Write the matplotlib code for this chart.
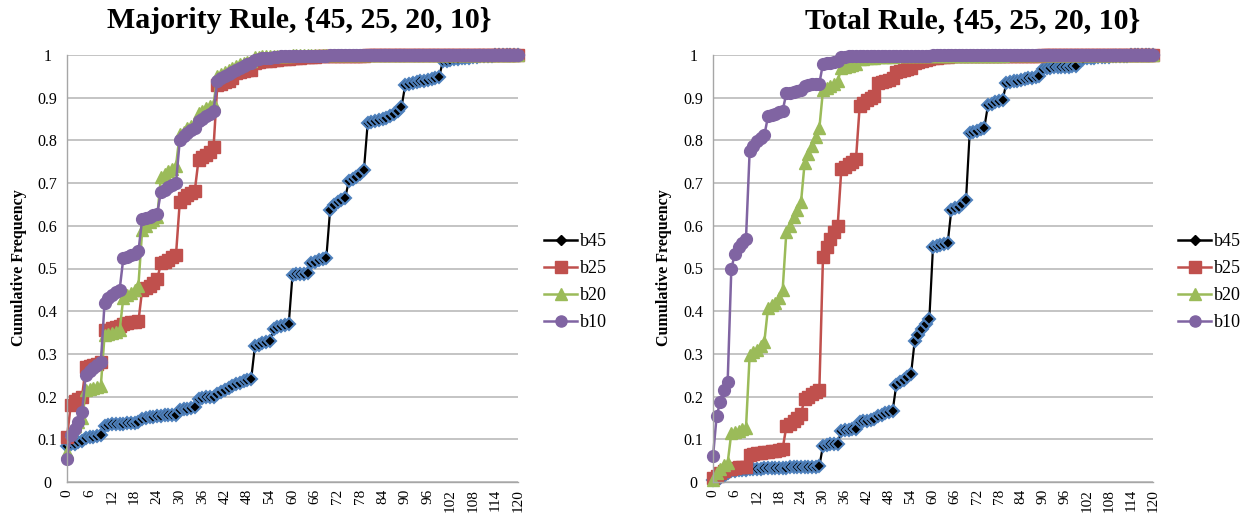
import matplotlib
matplotlib.use("Agg")
import matplotlib.pyplot as plt
from matplotlib.lines import Line2D
import numpy as np

plt.rcParams['font.family'] = ['Liberation Serif', 'DejaVu Serif']

# ---------------- data ----------------
x_values = list(range(0, 121))
x_tick_values = list(range(0, 121, 6))
x_tick_labels = [str(v) for v in x_tick_values]
y_tick_values = [0, 0.1, 0.2, 0.3, 0.4, 0.5, 0.6, 0.7, 0.8, 0.9, 1.0]
y_tick_labels = ["0", "0.1", "0.2", "0.3", "0.4", "0.5", "0.6", "0.7", "0.8", "0.9", "1"]
series_names = ["b45", "b25", "b20", "b10"]
titles = ["Majority Rule, {45, 25, 20, 10}", "Total Rule, {45, 25, 20, 10}"]
y_label = "Cumulative Frequency"

maj_b45 = [
    0.085, 0.088, 0.090, 0.093, 0.095, 0.103, 0.105, 0.106, 0.108, 0.110,
    0.132, 0.134, 0.135, 0.136, 0.137, 0.137, 0.138, 0.138, 0.139, 0.140,
    0.148, 0.150, 0.152, 0.153, 0.154, 0.155, 0.156, 0.157, 0.158, 0.158,
    0.168, 0.170, 0.172, 0.173, 0.175, 0.195, 0.197, 0.198, 0.199, 0.200,
    0.205, 0.210, 0.215, 0.220, 0.225, 0.230, 0.233, 0.236, 0.238, 0.241,
    0.318, 0.322, 0.326, 0.328, 0.330, 0.358, 0.362, 0.365, 0.367, 0.370,
    0.485, 0.486, 0.487, 0.488, 0.490, 0.512, 0.516, 0.519, 0.522, 0.525,
    0.637, 0.648, 0.655, 0.660, 0.665, 0.705, 0.710, 0.715, 0.722, 0.730,
    0.840, 0.842, 0.845, 0.847, 0.850, 0.852, 0.857, 0.862, 0.870, 0.878,
    0.930, 0.932, 0.934, 0.936, 0.938, 0.940, 0.942, 0.944, 0.946, 0.948,
    0.985, 0.987, 0.989, 0.990, 0.991, 0.992, 0.993, 0.994, 0.995, 0.996,
    0.997, 0.997, 0.998, 0.998, 0.999, 0.999, 0.999, 1.000, 1.000, 1.000,
    1.000]
maj_b25 = [
    0.105, 0.180, 0.190, 0.195, 0.200, 0.270, 0.272, 0.275, 0.277, 0.280,
    0.355, 0.357, 0.360, 0.362, 0.365, 0.370, 0.372, 0.374, 0.375, 0.376,
    0.450, 0.455, 0.460, 0.467, 0.475, 0.512, 0.516, 0.520, 0.526, 0.532,
    0.655, 0.665, 0.672, 0.677, 0.682, 0.755, 0.760, 0.765, 0.772, 0.785,
    0.930, 0.933, 0.936, 0.940, 0.945, 0.958, 0.960, 0.962, 0.964, 0.966,
    0.982, 0.984, 0.985, 0.986, 0.987, 0.988, 0.989, 0.990, 0.990, 0.991,
    0.993, 0.994, 0.994, 0.995, 0.995, 0.996, 0.996, 0.997, 0.997, 0.997,
    0.998, 0.998, 0.998, 0.998, 0.998, 0.998, 0.998, 0.998, 0.998, 0.998,
    0.999, 0.999, 0.999, 0.999, 0.999, 0.999, 0.999, 0.999, 0.999, 0.999,
    0.999, 0.999, 0.999, 0.999, 0.999, 0.999, 0.999, 0.999, 0.999, 0.999,
    1.000, 1.000, 1.000, 1.000, 1.000, 1.000, 1.000, 1.000, 1.000, 1.000,
    1.000, 1.000, 1.000, 1.000, 1.000, 1.000, 1.000, 1.000, 1.000, 1.000,
    1.000]
maj_b20 = [
    0.070, 0.120, 0.130, 0.140, 0.150, 0.215, 0.218, 0.220, 0.222, 0.225,
    0.345, 0.347, 0.350, 0.352, 0.355, 0.432, 0.437, 0.442, 0.450, 0.460,
    0.590, 0.600, 0.608, 0.614, 0.620, 0.715, 0.722, 0.728, 0.734, 0.740,
    0.815, 0.820, 0.828, 0.834, 0.840, 0.865, 0.870, 0.875, 0.880, 0.885,
    0.950, 0.955, 0.960, 0.965, 0.970, 0.975, 0.978, 0.981, 0.984, 0.987,
    0.995, 0.996, 0.997, 0.997, 0.998, 0.998, 0.998, 0.998, 0.998, 0.998,
    0.999, 0.999, 0.999, 0.999, 0.999, 0.999, 0.999, 0.999, 0.999, 0.999,
    0.999, 0.999, 0.999, 0.999, 0.999, 0.999, 0.999, 0.999, 0.999, 0.999,
    1.000, 1.000, 1.000, 1.000, 1.000, 1.000, 1.000, 1.000, 1.000, 1.000,
    1.000, 1.000, 1.000, 1.000, 1.000, 1.000, 1.000, 1.000, 1.000, 1.000,
    1.000, 1.000, 1.000, 1.000, 1.000, 1.000, 1.000, 1.000, 1.000, 1.000,
    1.000, 1.000, 1.000, 1.000, 1.000, 1.000, 1.000, 1.000, 1.000, 1.000,
    1.000]
maj_b10 = [
    0.055, 0.110, 0.125, 0.140, 0.165, 0.250, 0.260, 0.268, 0.275, 0.280,
    0.420, 0.430, 0.438, 0.445, 0.450, 0.525, 0.528, 0.531, 0.535, 0.540,
    0.615, 0.618, 0.621, 0.625, 0.628, 0.680, 0.685, 0.690, 0.695, 0.700,
    0.800, 0.810, 0.818, 0.824, 0.830, 0.845, 0.850, 0.856, 0.862, 0.870,
    0.940, 0.945, 0.950, 0.955, 0.960, 0.965, 0.970, 0.975, 0.978, 0.982,
    0.988, 0.990, 0.992, 0.993, 0.994, 0.995, 0.996, 0.997, 0.997, 0.998,
    0.998, 0.998, 0.998, 0.998, 0.998, 0.998, 0.998, 0.998, 0.998, 0.998,
    0.999, 0.999, 0.999, 0.999, 0.999, 0.999, 0.999, 0.999, 0.999, 0.999,
    0.999, 0.999, 0.999, 0.999, 0.999, 0.999, 0.999, 0.999, 0.999, 0.999,
    1.000, 1.000, 1.000, 1.000, 1.000, 1.000, 1.000, 1.000, 1.000, 1.000,
    1.000, 1.000, 1.000, 1.000, 1.000, 1.000, 1.000, 1.000, 1.000, 1.000,
    1.000, 1.000, 1.000, 1.000, 1.000, 1.000, 1.000, 1.000, 1.000, 1.000,
    1.000]

tot_b45 = [
    0.005, 0.008, 0.010, 0.015, 0.020, 0.025, 0.026, 0.027, 0.028, 0.029,
    0.030, 0.030, 0.031, 0.031, 0.032, 0.032, 0.032, 0.033, 0.033, 0.033,
    0.033, 0.034, 0.034, 0.034, 0.035, 0.035, 0.035, 0.036, 0.036, 0.037,
    0.085, 0.087, 0.088, 0.089, 0.090, 0.120, 0.121, 0.122, 0.123, 0.124,
    0.140, 0.142, 0.144, 0.146, 0.148, 0.155, 0.158, 0.161, 0.164, 0.167,
    0.228, 0.235, 0.240, 0.245, 0.252, 0.330, 0.345, 0.358, 0.370, 0.382,
    0.551, 0.553, 0.555, 0.557, 0.559, 0.637, 0.641, 0.645, 0.650, 0.660,
    0.817, 0.820, 0.823, 0.826, 0.830, 0.883, 0.886, 0.889, 0.892, 0.895,
    0.934, 0.936, 0.938, 0.940, 0.942, 0.944, 0.945, 0.946, 0.948, 0.950,
    0.968, 0.969, 0.970, 0.971, 0.971, 0.972, 0.972, 0.973, 0.974, 0.975,
    0.990, 0.991, 0.992, 0.993, 0.994, 0.995, 0.995, 0.996, 0.996, 0.997,
    0.997, 0.998, 0.998, 0.998, 0.999, 0.999, 0.999, 1.000, 1.000, 1.000,
    1.000]
tot_b25 = [
    0.010, 0.015, 0.020, 0.025, 0.030, 0.030, 0.032, 0.034, 0.035, 0.036,
    0.063, 0.065, 0.067, 0.068, 0.070, 0.070, 0.072, 0.073, 0.075, 0.078,
    0.130, 0.135, 0.142, 0.150, 0.160, 0.195, 0.200, 0.205, 0.210, 0.216,
    0.528, 0.550, 0.568, 0.585, 0.600, 0.732, 0.738, 0.744, 0.750, 0.756,
    0.880, 0.888, 0.894, 0.900, 0.905, 0.935, 0.937, 0.940, 0.942, 0.945,
    0.960, 0.962, 0.965, 0.967, 0.970, 0.982, 0.984, 0.986, 0.988, 0.990,
    0.993, 0.994, 0.995, 0.995, 0.996, 0.997, 0.997, 0.997, 0.997, 0.997,
    0.998, 0.998, 0.998, 0.998, 0.998, 0.998, 0.998, 0.998, 0.998, 0.998,
    0.998, 0.998, 0.998, 0.998, 0.998, 0.998, 0.998, 0.998, 0.998, 0.998,
    0.999, 0.999, 0.999, 0.999, 0.999, 0.999, 0.999, 0.999, 0.999, 0.999,
    0.999, 0.999, 0.999, 0.999, 0.999, 1.000, 1.000, 1.000, 1.000, 1.000,
    1.000, 1.000, 1.000, 1.000, 1.000, 1.000, 1.000, 1.000, 1.000, 1.000,
    1.000]
tot_b20 = [
    0.005, 0.020, 0.030, 0.040, 0.045, 0.115, 0.118, 0.120, 0.123, 0.127,
    0.298, 0.304, 0.310, 0.318, 0.328, 0.408, 0.414, 0.420, 0.432, 0.450,
    0.585, 0.600, 0.620, 0.638, 0.655, 0.748, 0.768, 0.788, 0.808, 0.828,
    0.918, 0.923, 0.928, 0.933, 0.938, 0.970, 0.972, 0.975, 0.977, 0.980,
    0.990, 0.991, 0.992, 0.993, 0.994, 0.995, 0.995, 0.995, 0.995, 0.995,
    0.997, 0.997, 0.997, 0.997, 0.997, 0.997, 0.997, 0.997, 0.997, 0.997,
    0.998, 0.998, 0.998, 0.998, 0.998, 0.998, 0.998, 0.998, 0.998, 0.998,
    0.998, 0.998, 0.998, 0.998, 0.998, 0.998, 0.998, 0.998, 0.998, 0.998,
    0.999, 0.999, 0.999, 0.999, 0.999, 0.999, 0.999, 0.999, 0.999, 0.999,
    0.999, 0.999, 0.999, 0.999, 0.999, 0.999, 0.999, 0.999, 0.999, 0.999,
    1.000, 1.000, 1.000, 1.000, 1.000, 1.000, 1.000, 1.000, 1.000, 1.000,
    1.000, 1.000, 1.000, 1.000, 1.000, 1.000, 1.000, 1.000, 1.000, 1.000,
    1.000]
tot_b10 = [
    0.060, 0.155, 0.188, 0.215, 0.235, 0.500, 0.535, 0.550, 0.560, 0.570,
    0.775, 0.787, 0.798, 0.806, 0.812, 0.856, 0.859, 0.862, 0.866, 0.870,
    0.910, 0.912, 0.914, 0.916, 0.918, 0.928, 0.930, 0.931, 0.932, 0.933,
    0.980, 0.981, 0.982, 0.983, 0.985, 0.995, 0.996, 0.997, 0.997, 0.998,
    0.998, 0.998, 0.998, 0.998, 0.998, 0.998, 0.998, 0.998, 0.998, 0.998,
    0.998, 0.998, 0.998, 0.998, 0.998, 0.998, 0.998, 0.998, 0.998, 0.998,
    0.999, 0.999, 0.999, 0.999, 0.999, 0.999, 0.999, 0.999, 0.999, 0.999,
    0.999, 0.999, 0.999, 0.999, 0.999, 0.999, 0.999, 0.999, 0.999, 0.999,
    1.000, 1.000, 1.000, 1.000, 1.000, 1.000, 1.000, 1.000, 1.000, 1.000,
    1.000, 1.000, 1.000, 1.000, 1.000, 1.000, 1.000, 1.000, 1.000, 1.000,
    1.000, 1.000, 1.000, 1.000, 1.000, 1.000, 1.000, 1.000, 1.000, 1.000,
    1.000, 1.000, 1.000, 1.000, 1.000, 1.000, 1.000, 1.000, 1.000, 1.000,
    1.000]

majority_series = [maj_b45, maj_b25, maj_b20, maj_b10]
total_series = [tot_b45, tot_b25, tot_b20, tot_b10]

# ---------------- styling ----------------
W, H = 1246, 516
styles = [
    dict(color='black', marker='D', markersize=6, markerfacecolor='black',
         markeredgecolor='#4F81BD', markeredgewidth=1.5, linewidth=1.6),
    dict(color='#C0504D', marker='s', markersize=8, markerfacecolor='#C0504D',
         markeredgecolor='#C0504D', linewidth=1.8),
    dict(color='#9BBB59', marker='^', markersize=9, markerfacecolor='#9BBB59',
         markeredgecolor='#9BBB59', linewidth=1.8),
    dict(color='#8064A2', marker='o', markersize=8.5, markerfacecolor='#8064A2',
         markeredgecolor='#8064A2', linewidth=1.8),
]
legend_styles = [
    dict(color='black', marker='D', markersize=5, markerfacecolor='black',
         markeredgecolor='black', linewidth=1.8),
    dict(color='#C0504D', marker='s', markersize=8, linewidth=1.8),
    dict(color='#9BBB59', marker='^', markersize=8, linewidth=1.8),
    dict(color='#8064A2', marker='o', markersize=8, linewidth=1.8),
]

fig = plt.figure(figsize=(W / 100, H / 100), dpi=100)
fig.patch.set_facecolor('white')

axes_px = [(67, 518), (713, 1153)]
title_cx = [299, 973]
legend_x = [544, 1178]
ylabel_x = [19, 664]

for k, (series, (xl, xr)) in enumerate(zip([majority_series, total_series], axes_px)):
    ax = fig.add_axes([xl / W, (H - 482) / H, (xr - xl) / W, 427 / H])
    for vals, st in zip(series, styles):
        ax.plot(x_values, vals, clip_on=False, **st)
    ax.set_xlim(0, 120)
    ax.set_ylim(0, 1)
    ax.set_yticks(y_tick_values)
    ax.set_yticklabels(y_tick_labels, fontsize=11.5)
    for lab in ax.get_yticklabels():
        lab.set_horizontalalignment('center')
    ax.tick_params(axis='y', length=0, pad=14)
    ax.set_xticks(x_tick_values)
    ax.set_xticklabels(x_tick_labels, rotation=90, fontsize=11)
    ax.tick_params(axis='x', length=0, pad=5)
    ax.yaxis.grid(True, color='#BFBFBF', linewidth=1.3)
    ax.set_axisbelow(True)
    for s in ['top', 'right']:
        ax.spines[s].set_visible(False)
    ax.spines['left'].set_color('#A6A6A6')
    ax.spines['bottom'].set_color('#A6A6A6')
    ax.spines['left'].set_linewidth(1.0)
    ax.spines['bottom'].set_linewidth(1.0)

    fig.text(title_cx[k] / W, 1 - 21 / H, titles[k], fontsize=21.5, fontweight='bold',
             ha='center', va='center')
    fig.text(ylabel_x[k] / W, 1 - 268 / H, y_label, fontsize=11.5, fontweight='bold',
             rotation=90, ha='center', va='center')

    handles = [Line2D([0], [0], **st) for st in legend_styles]
    fig.legend(handles, series_names, loc='center left',
               bbox_to_anchor=(legend_x[k] / W, 1 - 282 / H),
               frameon=False, fontsize=13, handlelength=1.85, handletextpad=0.12,
               labelspacing=0.55, borderaxespad=0, borderpad=0)

fig.savefig('out.png', dpi=100, facecolor='white')
